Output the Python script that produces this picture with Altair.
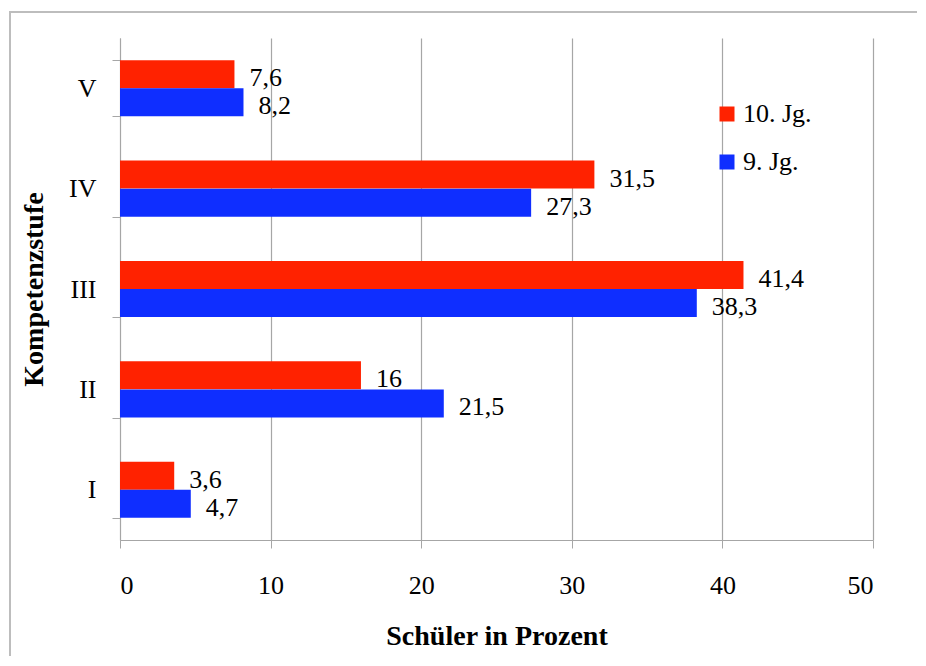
import altair as alt
import pandas as pd

levels = ["V", "IV", "III", "II", "I"]
series = ["10. Jg.", "9. Jg."]
values_10 = [7.6, 31.5, 41.4, 16, 3.6]
values_9 = [8.2, 27.3, 38.3, 21.5, 4.7]
x_ticks = [0, 10, 20, 30, 40, 50]

rows = []
for lvl, v10, v9 in zip(levels, values_10, values_9):
    rows.append({"Stufe": lvl, "Jg": series[0], "Wert": v10})
    rows.append({"Stufe": lvl, "Jg": series[1], "Wert": v9})
df = pd.DataFrame(rows)
df["Label"] = df["Wert"].map(lambda v: (f"{v:g}").replace(".", ","))

FONT = "Liberation Serif"
GRID = "#a6a6a6"
FS = 26

y_enc = alt.Y("Stufe:N", sort=levels,
              scale=alt.Scale(paddingInner=0.44, paddingOuter=0.22),
              axis=alt.Axis(title="Kompetenzstufe", tickBand="extent",
                            labelFontSize=FS, labelFont=FONT, labelColor="#000",
                            labelPadding=16, labelAngle=0,
                            titleFont=FONT, titleFontSize=28, titleFontWeight="bold",
                            titleColor="#000", titlePadding=20,
                            domainColor=GRID, tickColor=GRID, tickSize=8,
                            grid=False))
yoff = alt.YOffset("Jg:N", sort=series)

bars = alt.Chart(df).mark_bar(size=28).encode(
    x=alt.X("Wert:Q", scale=alt.Scale(domain=[0, 50], nice=False),
            axis=alt.Axis(values=x_ticks, title="Schüler in Prozent",
                          labelFontSize=FS, labelFont=FONT, labelColor="#000",
                          labelPadding=24,
                          titleFont=FONT, titleFontSize=28, titleFontWeight="bold",
                          titleColor="#000", titlePadding=24,
                          domainColor=GRID, tickColor=GRID, tickSize=8,
                          grid=True, gridColor=GRID, gridWidth=1.2)),
    y=y_enc,
    yOffset=yoff,
    color=alt.Color("Jg:N", sort=series,
                    scale=alt.Scale(domain=series, range=["#ff2200", "#0f2eff"]),
                    legend=alt.Legend(title=None, orient="none", legendX=594, legendY=63,
                                      symbolType="square", symbolSize=225,
                                      symbolStrokeWidth=0,
                                      labelFont=FONT, labelFontSize=FS, labelColor="#000",
                                      rowPadding=22, labelOffset=3)),
)

labels = alt.Chart(df).mark_text(align="left", baseline="middle", dx=15, dy=4,
                                 font=FONT, fontSize=FS, color="#000").encode(
    x="Wert:Q",
    y=alt.Y("Stufe:N", sort=levels),
    yOffset=yoff,
    text="Label:N",
)

frame = alt.Chart(df).mark_rect(fill=None, stroke="#bdbdbd", strokeWidth=2).encode(
    x=alt.value(-110), x2=alt.value(840), y=alt.value(-26), y2=alt.value(700)
)

chart = alt.layer(frame, bars, labels).properties(
    width=753, height=502,
    autosize=alt.AutoSizeParams(type="none"),
    padding={"left": 112, "top": 30, "right": 44, "bottom": 116},
).configure_view(stroke=None).configure_axis(labelFontWeight="normal")

chart.save("out.html", embed_options={"renderer": "svg", "actions": False})
